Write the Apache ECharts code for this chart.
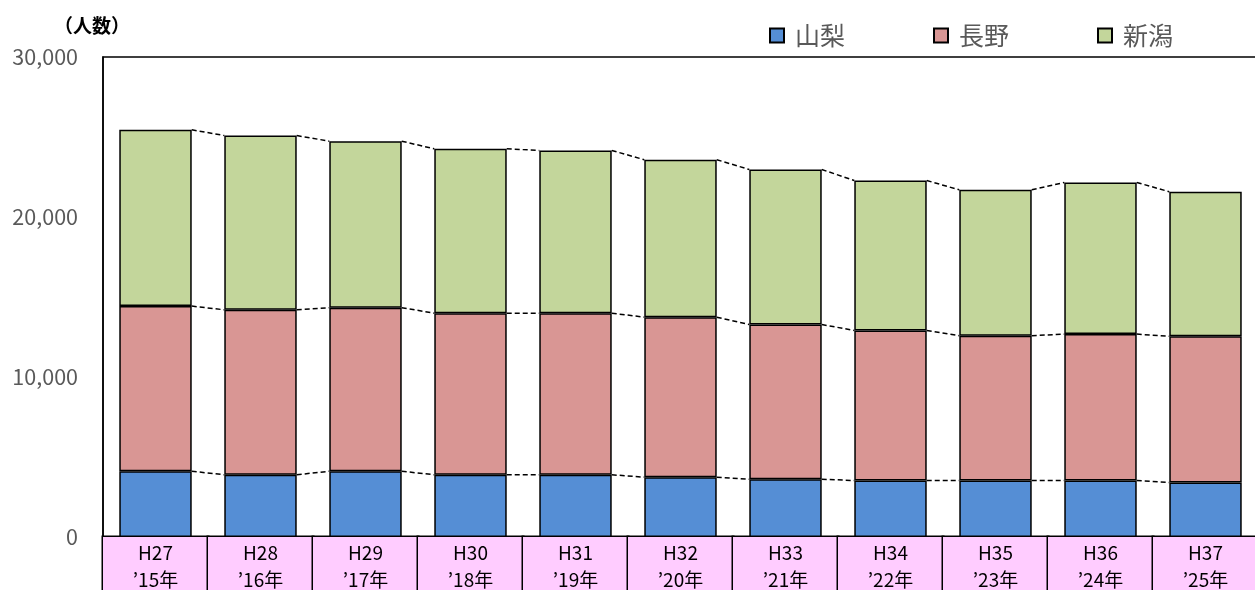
<!DOCTYPE html>
<html>
<head>
<meta charset="utf-8">
<script src="https://cdn.jsdelivr.net/npm/echarts@6/dist/echarts.min.js"></script>
<style>html,body{margin:0;padding:0;background:#fff}#c{width:1255px;height:590px}</style>
</head>
<body>
<div id="c"></div>
<script>
var categories = ["H27\n’15年","H28\n’16年","H29\n’17年","H30\n’18年","H31\n’19年","H32\n’20年","H33\n’21年","H34\n’22年","H35\n’23年","H36\n’24年","H37\n’25年"];
var yamanashi = [4110, 3890, 4110, 3890, 3890, 3740, 3610, 3530, 3530, 3530, 3410];
var nagano    = [10320, 10310, 10220, 10100, 10100, 10000, 9670, 9380, 9050, 9150, 9140];
var niigata   = [11020, 10890, 10410, 10270, 10170, 9840, 9690, 9370, 9120, 9480, 9030];
var yTicks = [0, 10000, 20000, 30000];

var FONT = '"Noto Sans CJK JP", "Noto Sans", sans-serif';
var cum1 = yamanashi.slice();
var cum2 = yamanashi.map(function (v, i) { return v + nagano[i]; });
var cum3 = cum2.map(function (v, i) { return v + niigata[i]; });
var connData = [];
for (var i = 0; i < categories.length - 1; i++) {
  connData.push([i, cum1[i], cum2[i], cum3[i], cum1[i+1], cum2[i+1], cum3[i+1]]);
}
var GAP = 0.31;
var chart = echarts.init(document.getElementById('c'));
var barStyle = function (c) { return { color: c, borderColor: '#000', borderWidth: 1.5 }; };
chart.setOption({
  animation: false,
  textStyle: { fontFamily: FONT },
  legend: {
    left: 764, top: 18, itemWidth: 14, itemHeight: 14, itemGap: 88,
    icon: 'rect',
    textStyle: { fontSize: 25, color: '#595959', fontFamily: FONT, padding: [0, 0, 0, 6] },
    data: ['山梨', '長野', '新潟']
  },
  grid: { left: 103, top: 57, width: 1155, height: 480, show: true, borderColor: '#000', borderWidth: 1.5, containLabel: false, outerBoundsMode: 'none' },
  xAxis: {
    type: 'category', data: categories,
    axisLine: { show: true, lineStyle: { color: '#000', width: 1.5 } },
    axisTick: { show: false },
    axisLabel: {
      interval: 0, margin: 0, color: '#000', fontSize: 19, fontFamily: FONT,
      width: 105, height: 60, lineHeight: 27, align: 'center', verticalAlign: 'top',
      padding: [2, 0, 0, 0],
      backgroundColor: '#FFCCFF', borderColor: '#000', borderWidth: 1.5
    }
  },
  yAxis: {
    type: 'value', min: yTicks[0], max: yTicks[yTicks.length - 1], interval: 10000,
    name: '（人数）', nameLocation: 'end', nameGap: 22,
    nameTextStyle: { color: '#000', fontSize: 19, fontWeight: 'bold', fontFamily: FONT, align: 'center', padding: [0, 22, 0, 0] },
    axisLine: { show: true, lineStyle: { color: '#000', width: 1.5 } },
    axisTick: { show: false },
    splitLine: { show: false },
    axisLabel: {
      margin: 25, color: '#595959', fontSize: 21.5, fontFamily: FONT,
      formatter: function (v) { return v.toLocaleString('en-US'); }
    }
  },
  series: [
    { name: '山梨', type: 'bar', stack: 's', data: yamanashi, barCategoryGap: (GAP * 100) + '%', itemStyle: barStyle('#558ED5') },
    { name: '長野', type: 'bar', stack: 's', data: nagano, itemStyle: barStyle('#D99694') },
    { name: '新潟', type: 'bar', stack: 's', data: niigata, itemStyle: barStyle('#C3D69B') },
    {
      type: 'custom', data: connData, silent: true, z: 5,
      renderItem: function (params, api) {
        var idx = api.value(0);
        var hw = api.size([1, 0])[0] * (1 - GAP) / 2;
        var children = [];
        for (var k = 1; k <= 3; k++) {
          var p1 = api.coord([idx, api.value(k)]);
          var p2 = api.coord([idx + 1, api.value(k + 3)]);
          children.push({
            type: 'line',
            shape: { x1: p1[0] + hw, y1: p1[1], x2: p2[0] - hw, y2: p2[1] },
            style: { stroke: '#000', lineWidth: 1.5, lineDash: [5, 3] }
          });
        }
        return { type: 'group', children: children };
      }
    }
  ]
});
</script>
</body>
</html>
